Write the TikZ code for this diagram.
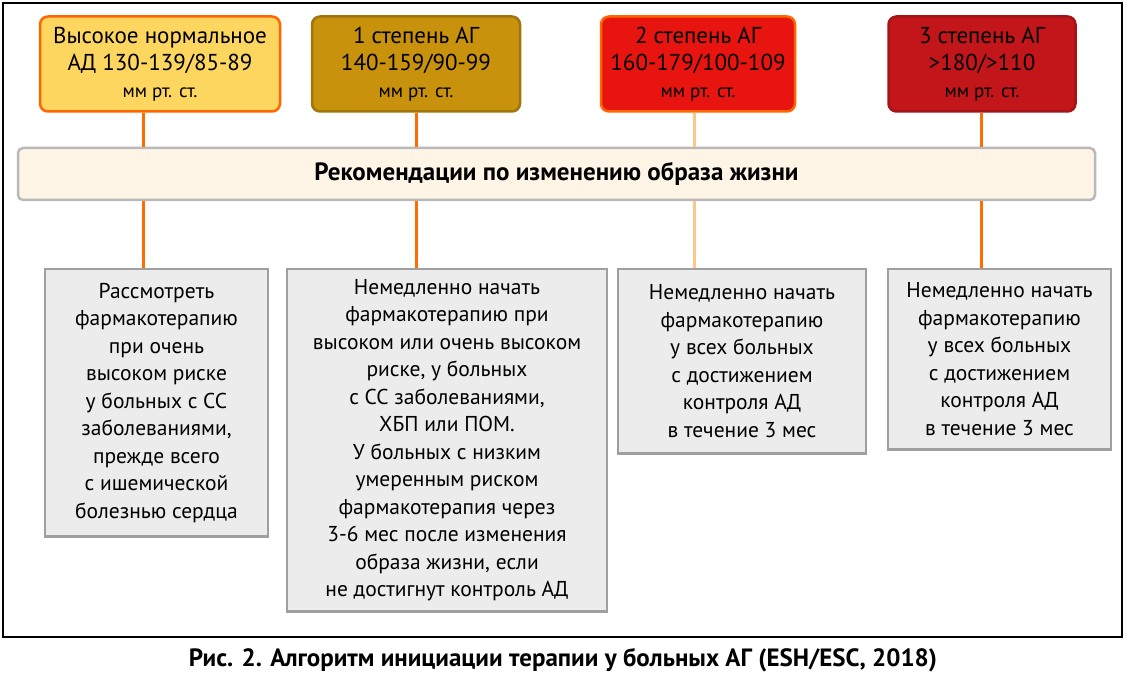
\documentclass[tikz,border=0pt]{standalone}
\usepackage{fontspec}
\setmainfont{PT Sans}
\begin{document}
\begin{tikzpicture}[x=1pt,y=-1pt,
  topbox/.style={draw,line width=2.5pt,rounded corners=8pt,inner sep=0pt,align=center,font=\fontsize{23}{27}\selectfont},
  lowbox/.style={draw=gray!75,fill=gray!15,line width=2.5pt,inner sep=0pt,align=center,font=\fontsize{21.5}{27.5}\selectfont},
  conn/.style={draw=orange!85!red,line width=3pt},
  connl/.style={draw=orange!45,line width=3pt}]
\useasboundingbox (0,0) rectangle (1129,676);
\draw[line width=2.5pt] (3,3) rectangle (1122,637);
\definecolor{y1}{HTML}{FCD65E}\definecolor{y2}{HTML}{C8920C}\definecolor{r3}{HTML}{E8140F}\definecolor{r4}{HTML}{C2161B}
\newcommand{\mmrt}{{\fontsize{19}{27}\selectfont мм рт. ст.}}
\node[topbox,draw=orange!80!red,fill=y1,minimum width=240pt,minimum height=95pt] (t1) at (160,64) {Высокое нормальное\\АД 130-139/85-89\\\mmrt};
\node[topbox,draw=y2!80!black,fill=y2,minimum width=208pt,minimum height=95pt] (t2) at (416,64) {1 степень АГ\\140-159/90-99\\\mmrt};
\node[topbox,draw=orange!80!red,fill=r3,minimum width=194pt,minimum height=95pt] (t3) at (698,64) {2 степень АГ\\160-179/100-109\\\mmrt};
\node[topbox,draw=r4!85!black,fill=r4,minimum width=187pt,minimum height=95pt] (t4) at (982,64) {3 степень АГ\\>180/>110\\\mmrt};
\node[draw=gray!55,fill=yellow!12!orange!8!white,line width=2.5pt,rounded corners=5pt,minimum width=1077pt,minimum height=52pt,font=\bfseries\fontsize{25}{28}\selectfont] (band) at (556.5,174) {Рекомендации по изменению образа жизни};
\node[lowbox,minimum width=223pt,minimum height=267pt,anchor=north] (b1) at (156.5,268) {Рассмотреть\\фармакотерапию\\при очень\\высоком риске\\у больных с СС\\заболеваниями,\\прежде всего\\с ишемической\\болезнью сердца};
\node[lowbox,minimum width=320pt,minimum height=342pt,anchor=north] (b2) at (447,268) {Немедленно начать\\фармакотерапию при\\высоком или очень высоком\\риске, у больных\\с СС заболеваниями,\\ХБП или ПОМ.\\У больных с низким\\умеренным риском\\фармакотерапия через\\3-6 мес после изменения\\образа жизни, если\\не достигнут контроль АД};
\node[lowbox,minimum width=248pt,minimum height=184pt,anchor=north] (b3) at (742,268) {Немедленно начать\\фармакотерапию\\у всех больных\\с достижением\\контроля АД\\в течение 3 мес};
\node[lowbox,minimum width=223pt,minimum height=180pt,anchor=north] (b4) at (999.5,268) {Немедленно начать\\фармакотерапию\\у всех больных\\с достижением\\контроля АД\\в течение 3 мес};
\coordinate (c1) at (143,0);\coordinate (c2) at (416,0);\coordinate (c3) at (694,0);\coordinate (c4) at (981,0);
\draw[conn] (t1.south -| c1) -- (band.north -| c1);
\draw[conn] (t2.south -| c2) -- (band.north -| c2);
\draw[connl] (t3.south -| c3) -- (band.north -| c3);
\draw[conn] (t4.south -| c4) -- (band.north -| c4);
\draw[conn] (band.south -| c1) -- (b1.north -| c1);
\draw[conn] (band.south -| c2) -- (b2.north -| c2);
\draw[connl] (band.south -| c3) -- (b3.north -| c3);
\draw[conn] (band.south -| c4) -- (b4.north -| c4);
\node[font=\bfseries\fontsize{25}{28}\selectfont] (cap) at (563,660) {Рис. 2. Алгоритм инициации терапии у больных АГ (ESH/ESC, 2018)};
\end{tikzpicture}
\end{document}
